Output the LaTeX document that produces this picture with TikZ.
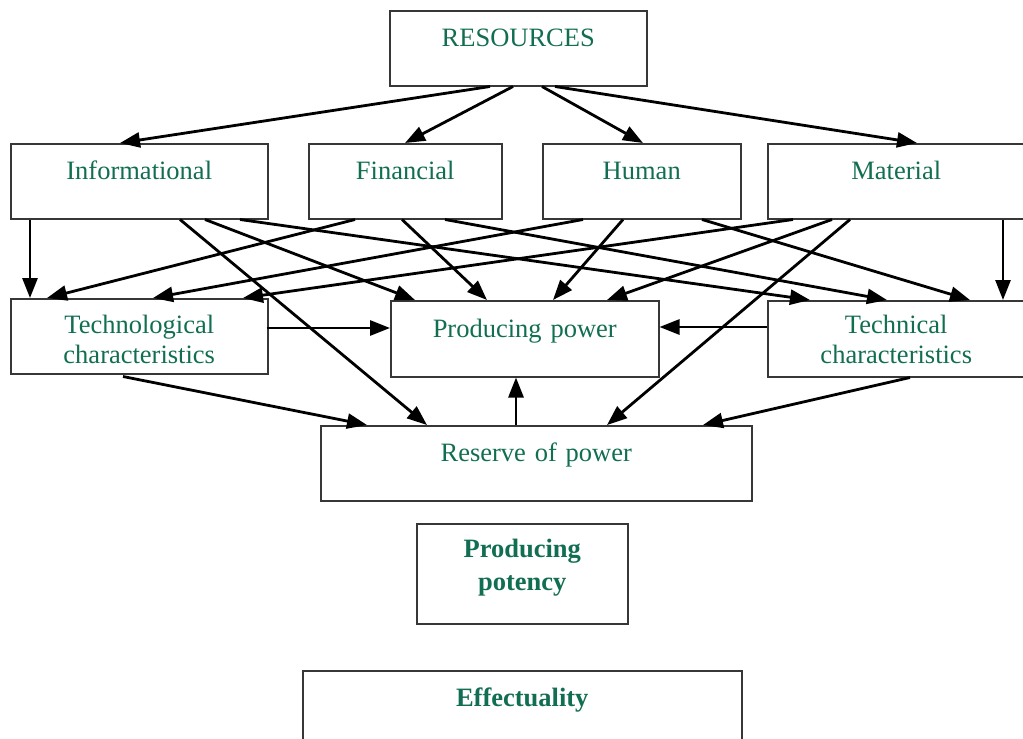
\documentclass[tikz,border=0pt]{standalone}
\usepackage{fontspec}
\setmainfont{Liberation Serif}
\usetikzlibrary{arrows.meta,calc}
\definecolor{textgreen}{RGB}{18,110,82}
\definecolor{boxline}{RGB}{55,55,55}
\newcommand*{\boxtextstyle}{\fontsize{26.5}{30}\selectfont\color{textgreen}}
\newcommand*{\boldtextstyle}{\fontsize{26.5}{33}\selectfont\bfseries\color{textgreen}}
\begin{document}
\begin{tikzpicture}[x=1pt, y=-1pt,
    box/.style = {draw=boxline, line width=1.5pt, inner sep=0pt,
      anchor=north west, align=center, font=\boxtextstyle,
      text height=36pt, text depth=39pt},
    flow/.style = {-{Triangle[length=20pt,width=15pt]}, line width=2.8pt}]
    
    \useasboundingbox (0,0) rectangle (1023,739);
    
    % resources
    \node[box, text width=257pt] (res) at (389,10) {RESOURCES};
    
    \node[box, text width=257pt] (info) at (10,143) {Informational};
    \node[box, text width=193pt] (fin) at (308,143) {Financial};
    \node[box, text width=198pt] (hum) at (542,143) {Human};
    \node[box, text width=257pt] (mat) at (767,143) {Material};
    
    % characteristics
    \node[box, text width=257pt, text height=35pt, text depth=40pt]
      (techno) at (10,298) {Technological\\ characteristics};
    \node[box, text width=268pt, text height=37pt, text depth=39pt]
      (power) at (390,300) {Producing power};
    \node[box, text width=257pt, text height=33pt, text depth=43pt]
      (technic) at (767,300) {Technical\\ characteristics};
    
    \node[box, text width=431pt] (reserve) at (320,425) {Reserve of power};
    
    % results
    \node[box, text width=211pt, font=\boldtextstyle, text height=34pt,
      text depth=66pt] (potency) at (416,523) {Producing\\ potency};
    \node[box, text width=439pt, font=\boldtextstyle] (effect) at (302,670)
      {Effectuality};
    
    \draw[flow] ($(res.south west)+(101,0)$) -- ($(info.north west)+(110,0)$);
    \draw[flow] ($(res.south west)+(124,0)$) -- ($(fin.north west)+(97,0)$);
    \draw[flow] ($(res.south west)+(153,0)$) -- ($(hum.north west)+(101,0)$);
    \draw[flow] ($(res.south west)+(166,0)$) -- ($(mat.north west)+(150,0)$);
    
    % informational
    \draw[flow] ($(info.south west)+(20,0)$) -- ($(techno.north west)+(20,0)$);
    \draw[flow] ($(info.south west)+(170,0)$) -- ($(reserve.north west)+(107,0)$);
    \draw[flow] ($(info.south west)+(195,0)$) -- ($(power.north west)+(25,0)$);
    \draw[flow] ($(info.south west)+(230,0)$) -- ($(technic.north west)+(43,0)$);
    
    % financial
    \draw[flow] ($(fin.south west)+(47,0)$) -- ($(techno.north west)+(37,0)$);
    \draw[flow] ($(fin.south west)+(94,0)$) -- ($(power.north west)+(97,0)$);
    \draw[flow] ($(fin.south west)+(137,0)$) -- ($(technic.north west)+(120,0)$);
    
    % human
    \draw[flow] ($(hum.south west)+(41,0)$) -- ($(techno.north west)+(143,0)$);
    \draw[flow] ($(hum.south west)+(81,0)$) -- ($(power.north west)+(163,0)$);
    \draw[flow] ($(hum.south west)+(160,0)$) -- ($(technic.north west)+(203,0)$);
    
    % material
    \draw[flow] ($(mat.south west)+(26,0)$) -- ($(techno.north west)+(233,0)$);
    \draw[flow] ($(mat.south west)+(65,0)$) -- ($(power.north west)+(217,0)$);
    \draw[flow] ($(mat.south west)+(83,0)$) -- ($(reserve.north west)+(287,0)$);
    \draw[flow] ($(mat.south west)+(236,0)$) -- ($(technic.north west)+(236,0)$);
    
    \draw[flow] ($(techno.north east)+(-2,30)$) -- ($(power.north west)+(0,28)$);
    \draw[flow] ($(technic.north west)+(0,27)$) -- ($(power.north east)+(0,27)$);
    \draw[flow] ($(techno.south west)+(113,2)$) -- ($(reserve.north west)+(47,0)$);
    \draw[flow] ($(technic.south west)+(143,0)$) -- ($(reserve.north west)+(383,0)$);
    \draw[flow] ($(reserve.north west)+(196,0)$) -- ($(power.south west)+(126,0)$);

\end{tikzpicture}
\end{document}
